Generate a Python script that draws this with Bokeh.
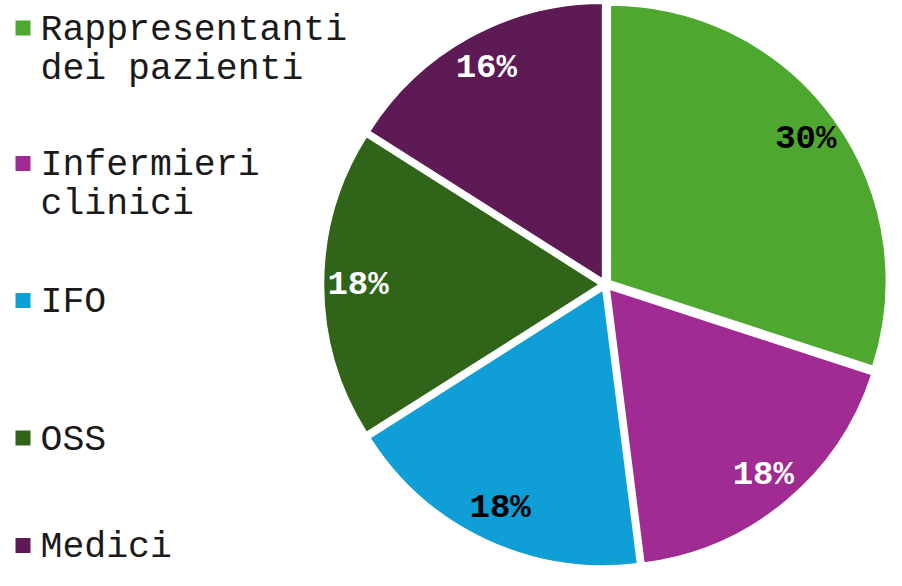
import math
from bokeh.plotting import figure
from bokeh.models import Range1d, ColumnDataSource
from bokeh.core.properties import value
from bokeh.embed import file_html
from bokeh.resources import INLINE

# ---- data ----
categories = ["Rappresentanti\ndei pazienti", "Infermieri\nclinici", "IFO", "OSS", "Medici"]
shares = [30, 18, 18, 18, 16]
colors = ["#4EA72E", "#A02B93", "#0F9ED5", "#2F6419", "#5E1A55"]
label_colors = ["black", "white", "black", "white", "white"]

W, H = 886, 570
p = figure(width=W, height=H, output_backend="svg", toolbar_location=None,
           x_range=Range1d(0, W), y_range=Range1d(0, H), min_border=0)
p.axis.visible = False
p.grid.visible = False
p.outline_line_color = None
p.background_fill_color = "white"
p.border_fill_color = "white"

# pie geometry (data units == pixels)
cx, cy, r = 605.0, H - 284.0, 276.0
explode = 6.0
label_ratio = 0.875

total = float(sum(shares))
xs, ys, starts, ends, lx, ly, texts = [], [], [], [], [], [], []
cum = 0.0
for s in shares:
    a0 = math.pi / 2 - 2 * math.pi * (cum + s) / total
    a1 = math.pi / 2 - 2 * math.pi * cum / total
    mid = (a0 + a1) / 2
    ox = cx + explode * math.cos(mid)
    oy = cy + explode * math.sin(mid)
    xs.append(ox); ys.append(oy); starts.append(a0); ends.append(a1)
    lx.append(ox + label_ratio * r * math.cos(mid))
    ly.append(oy + label_ratio * r * math.sin(mid))
    texts.append(f"{s}%")
    cum += s

src = ColumnDataSource(dict(x=xs, y=ys, start=starts, end=ends, color=colors,
                            lx=lx, ly=ly, text=texts, tcolor=label_colors))
p.wedge(x="x", y="y", radius=r, start_angle="start", end_angle="end",
        fill_color="color", line_color="white", line_width=1.5, source=src)
p.text(x="lx", y="ly", text="text", text_color="tcolor", source=src,
       text_font=value("Liberation Mono"), text_font_style="bold",
       text_font_size="34px", text_align="center", text_baseline="middle")

# ---- legend ----
leg_marker_x = 22.5
leg_text_x = 40
row_tops = [27.5, 163, 300, 437.5, 545]   # marker centres, pixels from top
line_gap = 39
mk_x, mk_y, mk_c = [], [], []
tx, ty, tt = [], [], []
for i, cat in enumerate(categories):
    row_y = row_tops[i]
    mk_x.append(leg_marker_x); mk_y.append(H - row_y); mk_c.append(colors[i])
    base = row_y + 2
    for j, line in enumerate(cat.split("\n")):
        tx.append(leg_text_x); ty.append(H - (base + j * line_gap)); tt.append(line)

p.scatter(x=mk_x, y=mk_y, size=15, marker="square", fill_color=mk_c, line_color=None)
p.text(x=tx, y=ty, text=tt, text_color="#1a1a1a",
       text_font=value("Liberation Mono"), text_font_size="36.5px",
       text_align="left", text_baseline="alphabetic")

open("out.html", "w").write(file_html(p, INLINE))
